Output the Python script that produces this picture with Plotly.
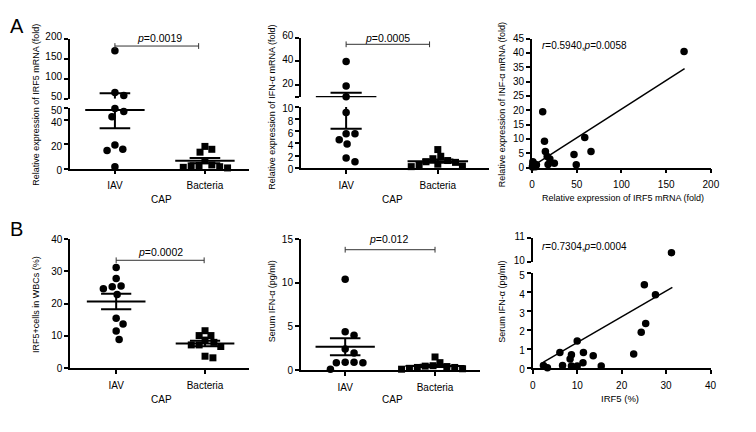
import numpy as np
import plotly.graph_objects as go

W, H = 756, 432
FONT = "Liberation Sans, Arial, sans-serif"

# ---------------- data ----------------
groups = ["IAV", "Bacteria"]
group_label = "CAP"

# A1: relative expression of IRF5 mRNA (fold)
irf5_mrna_iav = [170, 66, 58, 50, 47.5, 43, 19.5, 16, 15, 1.5]
irf5_mrna_bac = [18.4, 16.0, 13.6, 6.5, 3.0, 2.5, 2.2, 1.5, 1.0, 0.5]
p_a1 = "0.0019"

# A2: relative expression of IFN-alpha mRNA (fold)
ifn_mrna_iav = [40, 19.5, 10.5, 9.1, 5.6, 5.6, 4.6, 3.9, 1.6, 1.0]
ifn_mrna_bac = [3.0, 1.9, 1.5, 1.2, 1.0, 0.9, 0.6, 0.4, 0.3, 0.2]
p_a2 = "0.0005"

# A3: correlation IRF5 mRNA vs IFN-alpha mRNA
a3_irf5 = [170, 12, 14, 59, 66, 15, 47, 17, 20, 25, 18, 49.5, 1, 2, 3, 5, 0.5, 1.5, 4, 0.8]
a3_ifn = [40.5, 19.5, 9.2, 10.5, 5.6, 5.6, 4.6, 3.9, 3.0, 1.5, 1.1, 1.0, 2.0, 0.5, 1.2, 1.0, 0.2, 1.5, 0.3, 0.8]
a3_fit_slope, a3_fit_intercept, a3_fit_xrange = 0.2, 0.4, [2.0, 170.6]
a3_stats = ("0.5940", "0.0058")

# B1: IRF5+ cells in WBCs (%)
irf5_cells_iav = [31.2, 27.8, 25.5, 25.2, 24.6, 22.8, 15.5, 13.7, 11.5, 8.9]
irf5_cells_bac = [11.6, 10.1, 10.1, 8.7, 8.0, 7.2, 7.2, 6.7, 3.7, 3.2]
p_b1 = "0.0002"

# B2: serum IFN-alpha (pg/ml)
serum_ifn_iav = [10.4, 4.4, 4.0, 2.4, 1.95, 0.9, 0.85, 0.85, 0.9, 0.1]
serum_ifn_bac = [1.5, 0.85, 0.5, 0.45, 0.4, 0.3, 0.3, 0.2, 0.15, 0.1]
p_b2 = "0.012"

# B3: correlation IRF5 (%) vs serum IFN-alpha
b3_irf5 = [31.2, 25.1, 27.6, 25.4, 24.4, 22.7, 10.0, 6.1, 8.7, 8.4, 11.4, 13.6, 11.3, 2.4, 3.3, 6.7, 8.7, 10.0, 15.4]
b3_ifn = [10.4, 4.39, 3.86, 2.34, 1.88, 0.73, 1.42, 0.81, 0.69, 0.47, 0.81, 0.64, 0.27, 0.12, 0.0, 0.12, 0.1, 0.1, 0.1]
b3_fit_slope, b3_fit_intercept, b3_fit_xrange = 0.136, -0.02, [2.4, 31.4]
b3_stats = ("0.7304", "0.0004")

# ---------------- helpers ----------------
def fx(px):
    return px / W


def fy(py):
    return 1 - py / H


def axn(i, c):
    return f"{c}axis" if i == 1 else f"{c}axis{i}"


def ref(i, c):
    return c if i == 1 else f"{c}{i}"


TICK_FONT = dict(family=FONT, size=10, color="black")
CAT_FONT = dict(family=FONT, size=10, color="black")
AX = dict(showline=True, linecolor="black", linewidth=1.8, ticks="outside", ticklen=4,
          tickwidth=1.6, tickcolor="black", showgrid=False, zeroline=False,
          tickfont=TICK_FONT, fixedrange=True)

fig = go.Figure()
layout = dict(width=W, height=H, margin=dict(l=0, r=0, t=0, b=0),
              paper_bgcolor="white", plot_bgcolor="rgba(0,0,0,0)", showlegend=False)
shapes = []
annots = []


def text(x, y, s, size=9, anchor="center", angle=0):
    annots.append(dict(x=fx(x), y=fy(y), xref="paper", yref="paper", text=s, showarrow=False,
                       xanchor=anchor, yanchor="middle", textangle=angle,
                       font=dict(family=FONT, size=size, color="black")))


def hline(x0, x1, y, xref="paper", color="black", width=1):
    shapes.append(dict(type="line", xref=xref, yref="paper", x0=x0, x1=x1, y0=fy(y), y1=fy(y),
                       line=dict(color=color, width=width)))


def vline(x, y0, y1, xref="paper", color="black", width=1):
    shapes.append(dict(type="line", xref=xref, yref="paper", x0=x, x1=x, y0=fy(y0), y1=fy(y1),
                       line=dict(color=color, width=width)))


def swarm(vals, ypix, dmin):
    """pixel x offsets so that markers keep a minimum distance (simple beeswarm)"""
    order = sorted(range(len(vals)), key=lambda i: -vals[i])
    placed = []
    offs = [0.0] * len(vals)
    cand = [0]
    for k in range(1, 80):
        cand += [k, -k]
    for i in order:
        y = ypix(vals[i])
        for dx in cand:
            if all((dx - px) ** 2 + (y - py) ** 2 >= dmin ** 2 for px, py in placed):
                break
        placed.append((dx, y))
        offs[i] = dx
    return offs


def in_seg(v, k, segs):
    lo, hi = segs[k][0], segs[k][1]
    return (k == 0 or v > lo) and (k == len(segs) - 1 or v <= hi)


def y_axis(i, k, segs):
    lo, hi, ptop, pbot, tv, tt = segs[k]
    ya = dict(AX, domain=[fy(pbot), fy(ptop)], range=[lo, hi], anchor=ref(i, "x"),
              tickvals=tv, ticktext=tt)
    if len(segs) > 1:
        # pull the two labels at the break slightly apart
        ya["ticklabelshift"] = 2 if k == 0 else -2
    return ya


def dot_panel(first, xl, xr, xrng, segs, data, bracket, ptext, cap_y):
    # segs: bottom->top: (lo, hi, py_top, py_bot, tickvals, ticktext)
    ids = []
    for k in range(len(segs)):
        i = first + k
        ids.append(i)
        xa = dict(AX, domain=[fx(xl), fx(xr)], range=xrng, anchor=ref(i, "y"),
                  tickvals=[0, 1], ticktext=groups, ticklabelstandoff=3, tickfont=CAT_FONT)
        if k > 0:
            xa["visible"] = False
        layout[axn(i, "x")] = xa
        layout[axn(i, "y")] = y_axis(i, k, segs)

    def ypix(v):
        for (lo, hi, ptop, pbot, tv, tt) in segs:
            if v <= hi:
                return pbot - (v - lo) / (hi - lo) * (pbot - ptop)
        lo, hi, ptop, pbot = segs[-1][:4]
        return pbot - (v - lo) / (hi - lo) * (pbot - ptop)

    xppu = (xr - xl) / (xrng[1] - xrng[0])
    symbols = ["circle", "square"]
    sizes = [7.5, 7]
    dmins = [9.0, 7.5]
    for g, vals in enumerate(data):
        offs = swarm(vals, ypix, dmins[g])
        m = float(np.mean(vals))
        s = float(np.std(vals, ddof=1) / np.sqrt(len(vals)))
        for k, seg in enumerate(segs):
            lo, hi = seg[0], seg[1]
            i = ids[k]
            sel = [j for j, v in enumerate(vals) if in_seg(v, k, segs)]
            fig.add_trace(go.Scatter(x=[g + offs[j] / xppu for j in sel], y=[vals[j] for j in sel],
                                     mode="markers", xaxis=ref(i, "x"), yaxis=ref(i, "y"),
                                     cliponaxis=False, hoverinfo="skip",
                                     marker=dict(symbol=symbols[g], size=sizes[g], color="black",
                                                 line=dict(width=0))))
            ex, ey = [], []
            if in_seg(m, k, segs):
                ex += [g - 0.33, g + 0.33, None]
                ey += [m, m, None]
            a = m - s if k == 0 else max(m - s, lo)
            b = m + s if k == len(segs) - 1 else min(m + s, hi)
            if a < b:
                ex += [g, g, None]
                ey += [a, b, None]
            for c in (m + s, m - s):
                if in_seg(c, k, segs):
                    ex += [g - 0.17, g + 0.17, None]
                    ey += [c, c, None]
            if ex:
                fig.add_trace(go.Scatter(x=ex, y=ey, mode="lines", xaxis=ref(i, "x"),
                                         yaxis=ref(i, "y"), cliponaxis=False,
                                         line=dict(color="black", width=2), hoverinfo="skip"))
    top = ids[-1]
    bx0, bx1, by = bracket
    hline(bx0, bx1, by, xref=ref(top, "x"), color="#333", width=1)
    vline(bx0, by - 3, by + 3, xref=ref(top, "x"), color="#333", width=1)
    vline(bx1, by - 3, by + 3, xref=ref(top, "x"), color="#333", width=1)
    tx, ty, pv = ptext
    text(tx, ty, "<i>p</i>=" + pv, size=10.5)
    cx0, cx1, cy = cap_y
    hline(cx0, cx1, cy, color="black", width=1)
    text((cx0 + cx1) / 2, cy + 7.5, group_label, size=10)


def scatter_panel(first, xl, xr, xrng, xdtick, segs, xs, ys, fit, stats, stat_pos):
    ids = []
    for k in range(len(segs)):
        i = first + k
        ids.append(i)
        xa = dict(AX, domain=[fx(xl), fx(xr)], range=xrng, anchor=ref(i, "y"),
                  dtick=xdtick, tick0=0, ticklabelstandoff=3)
        if k > 0:
            xa["visible"] = False
        layout[axn(i, "x")] = xa
        layout[axn(i, "y")] = y_axis(i, k, segs)
    for k in range(len(segs)):
        i = ids[k]
        sel = [j for j, v in enumerate(ys) if in_seg(v, k, segs)]
        fig.add_trace(go.Scatter(x=[xs[j] for j in sel], y=[ys[j] for j in sel], mode="markers",
                                 xaxis=ref(i, "x"), yaxis=ref(i, "y"), cliponaxis=False,
                                 hoverinfo="skip",
                                 marker=dict(symbol="circle", size=7.5, color="black",
                                             line=dict(width=0))))
    slope, icpt, xr_ = fit
    fxs = np.array(xr_)
    fig.add_trace(go.Scatter(x=fxs, y=slope * fxs + icpt, mode="lines", xaxis=ref(ids[0], "x"),
                             yaxis=ref(ids[0], "y"), line=dict(color="black", width=1.5),
                             hoverinfo="skip"))
    r, p = stats
    text(stat_pos[0], stat_pos[1], f"<i>r</i>={r},<i>p</i>={p}", size=10, anchor="left")


# ---------------- panels ----------------
dot_panel(1, 68, 250, [-0.5, 1.49],
          [(0, 50, 104.3, 166.7, [0, 20, 40, 50], None),
           (50, 200, 32, 94.3, [50, 100, 150, 200], None)],
          [irf5_mrna_iav, irf5_mrna_bac], (0, 0.93, 39.5), (159.5, 31.5, p_a1), (108, 214, 191.7))
dot_panel(3, 303, 494, [-0.49, 1.56],
          [(0, 10, 102.7, 166, [0, 2, 4, 6, 8, 10], None),
           (10, 60, 30.7, 92.7, [10, 20, 40, 60], ["", "20", "40", "60"])],
          [ifn_mrna_iav, ifn_mrna_bac], (0, 0.91, 37.7), (390.5, 31.5, p_a2), (342.7, 448.3, 191.7))
scatter_panel(5, 537.5, 719.3, [0, 200], 50,
              [(0, 45, 31.7, 165.7, list(range(0, 50, 5)), None)],
              a3_irf5, a3_ifn, (a3_fit_slope, a3_fit_intercept, a3_fit_xrange), a3_stats, (546, 39.3))
dot_panel(6, 68.3, 250, [-0.517, 1.495],
          [(0, 40, 240, 374, [0, 10, 20, 30, 40], None)],
          [irf5_cells_iav, irf5_cells_bac], (0, 0.99, 262), (160, 253.3, p_b1), (108.3, 214, 399.3))
dot_panel(7, 302.7, 485, [-0.493, 1.504],
          [(0, 15, 240, 376, [0, 5, 10, 15], None)],
          [serum_ifn_iav, serum_ifn_bac], (0, 1.0, 251), (391.7, 240, p_b2), (342.7, 448.3, 399.3))
scatter_panel(8, 538.3, 719, [0, 40], 10,
              [(0, 5, 275.3, 373.7, [0, 1, 2, 3, 4, 5], None),
               (10, 11, 239.3, 264, [10, 11], None)],
              b3_irf5, b3_ifn, (b3_fit_slope, b3_fit_intercept, b3_fit_xrange), b3_stats, (546, 247.7))

# axis titles
text(34, 100, "Relative expression of IRF5 mRNA (fold)", angle=-90)
text(274, 103, "Relative expression of IFN-α mRNA (fold)", angle=-90)
text(507, 100, "Relative expression of INF-α mRNA (fold)", angle=-90)
text(630, 197, "Relative expression of IRF5 mRNA (fold)")
text(33, 308, "IRF5+cells in WBCs (%)", angle=-90)
text(273, 305, "Serum IFN-α (pg/ml)", angle=-90)
text(507, 305, "Serum IFN-α (pg/ml)", angle=-90)
text(627, 405.7, "IRF5 (%)", size=9.5)

# panel letters
text(14, 19, "A", size=20)
text(14, 230, "B", size=20)

layout["shapes"] = shapes
layout["annotations"] = annots
fig.update_layout(**layout)
fig.write_html("out.html", config={"displayModeBar": False},
               post_script="document.body.style.margin='0';document.body.style.overflow='hidden';")
